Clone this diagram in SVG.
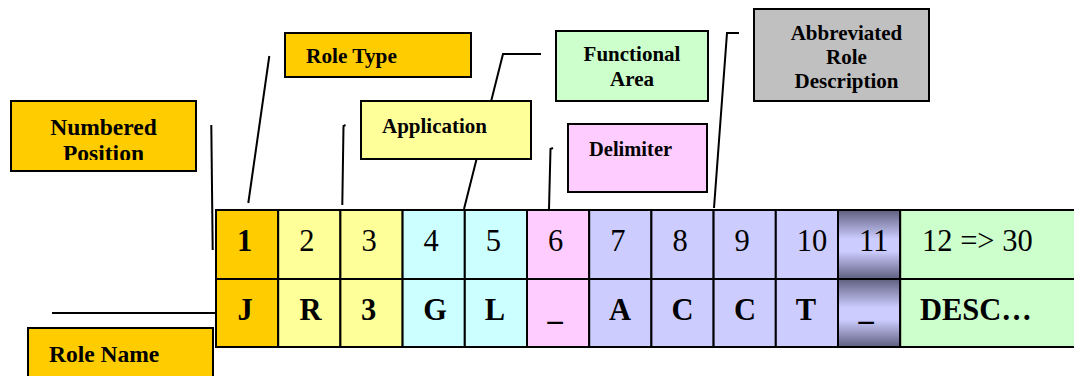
<svg xmlns="http://www.w3.org/2000/svg" width="1074" height="376" viewBox="0 0 1074 376">
<style>
.lbl{stroke:#000;stroke-width:2}
.lt{font-family:"Liberation Serif","Times New Roman",serif;font-weight:bold;fill:#000}
.cell{stroke:#000;stroke-width:2}
.num{font-family:"Liberation Serif","Times New Roman",serif;font-size:30.5px;fill:#000}
.let{font-family:"Liberation Serif","Times New Roman",serif;font-size:30.5px;font-weight:bold;fill:#000;text-anchor:middle}
.lets{font-family:"Liberation Serif","Times New Roman",serif;font-size:30.5px;font-weight:bold;fill:#000}
.con{fill:none;stroke:#000;stroke-width:2}
</style>
<defs>
<linearGradient id="g11" x1="0" y1="0" x2="0" y2="1">
<stop offset="0" stop-color="#5f5f80"/>
<stop offset="0.42" stop-color="#ccccff"/>
<stop offset="0.6" stop-color="#ccccff"/>
<stop offset="1" stop-color="#5f5f80"/>
</linearGradient>
<clipPath id="npclip"><rect x="11" y="101" width="185" height="59"/></clipPath>
</defs>

<g id="connectors">
<polyline class="con" points="211.3,125 212.7,250"/>
<polyline class="con" points="269.3,56 248.3,203"/>
<polyline class="con" points="345.5,125 343.5,126 342.3,205"/>
<polyline class="con" points="541,54 503,54 464,209"/>
<polyline class="con" points="553,148 550.5,149 549,209"/>
<polyline class="con" points="739,33 727,33 714,208"/>
<polyline class="con" points="52,313 216,313"/>
</g>

<g id="table">
<g id="col1"><rect class="cell" x="216" y="210" width="62.2" height="69" fill="#ffcc00"/><rect class="cell" x="216" y="279" width="62.2" height="68" fill="#ffcc00"/>
<text class="num" x="237" y="251" font-weight="bold">1</text><text class="let" x="245" y="320">J</text></g>
<g id="col2"><rect class="cell" x="278.2" y="210" width="62.2" height="69" fill="#ffff99"/><rect class="cell" x="278.2" y="279" width="62.2" height="68" fill="#ffff99"/>
<text class="num" x="299.2" y="251">2</text><text class="let" x="310.5" y="320">R</text></g>
<g id="col3"><rect class="cell" x="340.4" y="210" width="62.2" height="69" fill="#ffff99"/><rect class="cell" x="340.4" y="279" width="62.2" height="68" fill="#ffff99"/>
<text class="num" x="361.4" y="251">3</text><text class="let" x="368.5" y="320">3</text></g>
<g id="col4"><rect class="cell" x="402.6" y="210" width="62.2" height="69" fill="#ccffff"/><rect class="cell" x="402.6" y="279" width="62.2" height="68" fill="#ccffff"/>
<text class="num" x="423.6" y="251">4</text><text class="let" x="435" y="320">G</text></g>
<g id="col5"><rect class="cell" x="464.8" y="210" width="62.2" height="69" fill="#ccffff"/><rect class="cell" x="464.8" y="279" width="62.2" height="68" fill="#ccffff"/>
<text class="num" x="485.8" y="251">5</text><text class="let" x="495" y="320">L</text></g>
<g id="col6"><rect class="cell" x="527" y="210" width="62.2" height="69" fill="#ffccff"/><rect class="cell" x="527" y="279" width="62.2" height="68" fill="#ffccff"/>
<text class="num" x="548" y="251">6</text><text class="let" x="555" y="320">_</text></g>
<g id="col7"><rect class="cell" x="589.2" y="210" width="62.2" height="69" fill="#ccccff"/><rect class="cell" x="589.2" y="279" width="62.2" height="68" fill="#ccccff"/>
<text class="num" x="610.2" y="251">7</text><text class="let" x="620" y="320">A</text></g>
<g id="col8"><rect class="cell" x="651.4" y="210" width="62.2" height="69" fill="#ccccff"/><rect class="cell" x="651.4" y="279" width="62.2" height="68" fill="#ccccff"/>
<text class="num" x="672.4" y="251">8</text><text class="let" x="682.5" y="320">C</text></g>
<g id="col9"><rect class="cell" x="713.6" y="210" width="62.2" height="69" fill="#ccccff"/><rect class="cell" x="713.6" y="279" width="62.2" height="68" fill="#ccccff"/>
<text class="num" x="734.6" y="251">9</text><text class="let" x="745" y="320">C</text></g>
<g id="col10"><rect class="cell" x="775.8" y="210" width="62.2" height="69" fill="#ccccff"/><rect class="cell" x="775.8" y="279" width="62.2" height="68" fill="#ccccff"/>
<text class="num" x="796.8" y="251">10</text><text class="let" x="806" y="320">T</text></g>
<g id="col11"><rect class="cell" x="838" y="210" width="62.2" height="69" fill="url(#g11)"/><rect class="cell" x="838" y="279" width="62.2" height="68" fill="url(#g11)"/>
<text class="num" x="859" y="251">11</text><text class="let" x="866" y="320">_</text></g>
<g id="col12"><rect class="cell" x="900.2" y="210" width="180" height="69" fill="#ccffcc"/><rect class="cell" x="900.2" y="279" width="180" height="68" fill="#ccffcc"/>
<text class="num" x="922" y="251">12 =&gt; 30</text><text class="lets" x="920" y="320">DESC…</text></g>
</g>

<g id="numbered-position">
<rect class="lbl" x="11" y="101" width="185" height="70" fill="#ffcc00"/>
<g clip-path="url(#npclip)">
<text class="lt" x="103.5" y="135" font-size="23.5" text-anchor="middle">Numbered</text>
<text class="lt" x="103.5" y="161" font-size="23.5" text-anchor="middle">Position</text>
</g>
</g>
<g id="role-type">
<rect class="lbl" x="285" y="33" width="186" height="44" fill="#ffcc00"/>
<text class="lt" x="306" y="63" font-size="21.3">Role Type</text>
</g>
<g id="application">
<rect class="lbl" x="361" y="101" width="170" height="58" fill="#ffff99"/>
<text class="lt" x="382" y="133" font-size="21">Application</text>
</g>
<g id="functional-area">
<rect class="lbl" x="556" y="31" width="152" height="70" fill="#ccffcc"/>
<text class="lt" x="632" y="61" font-size="21" text-anchor="middle">Functional</text>
<text class="lt" x="632" y="86" font-size="21" text-anchor="middle">Area</text>
</g>
<g id="delimiter">
<rect class="lbl" x="568" y="124" width="139" height="68" fill="#ffccff"/>
<text class="lt" x="589" y="156" font-size="20.5">Delimiter</text>
</g>
<g id="abbreviated-role-description">
<rect class="lbl" x="754" y="9" width="175" height="92" fill="#c0c0c0"/>
<text class="lt" x="846.5" y="40" font-size="21" text-anchor="middle">Abbreviated</text>
<text class="lt" x="846.5" y="64" font-size="21" text-anchor="middle">Role</text>
<text class="lt" x="846.5" y="88" font-size="21" text-anchor="middle">Description</text>
</g>
<g id="role-name">
<rect class="lbl" x="28" y="328" width="185" height="60" fill="#ffcc00"/>
<text class="lt" x="49" y="362" font-size="23.5">Role Name</text>
</g>
</svg>
